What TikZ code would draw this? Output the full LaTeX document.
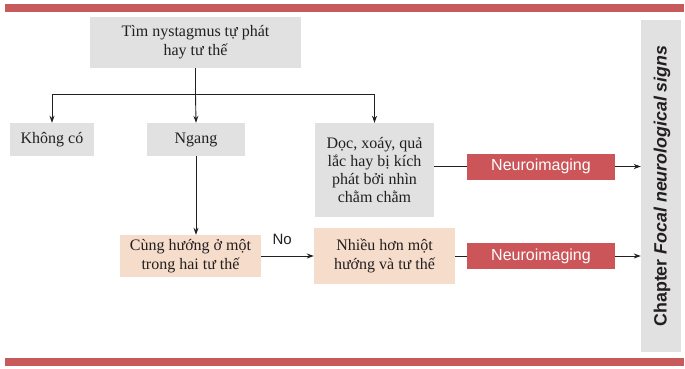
\documentclass[tikz,border=0pt]{standalone}
\usepackage{fontspec}
\setmainfont{Liberation Serif}
\setsansfont{Liberation Sans}
\usetikzlibrary{arrows.meta}
\definecolor{barred}{HTML}{C75B5B}
\definecolor{boxred}{HTML}{CB5558}
\definecolor{boxgray}{HTML}{E1E1E1}
\definecolor{boxpeach}{HTML}{F5DCCB}
\definecolor{linegray}{HTML}{231F20}
\begin{document}
\begin{tikzpicture}[x=1pt,y=-1pt,
  box/.style={fill=boxgray,inner sep=0pt,align=center,text=linegray,font=\fontsize{16}{19}\selectfont},
  peach/.style={fill=boxpeach,inner sep=0pt,align=center,text=linegray,font=\fontsize{16}{19}\selectfont},
  neuro/.style={fill=boxred,inner sep=0pt,minimum width=148pt,minimum height=26pt,text=white,font=\sffamily\fontsize{16}{18}\selectfont},
  conn/.style={draw=linegray,line width=0.9pt},
  arr/.style={conn,-{Stealth[length=7pt,width=5pt]}}]
\useasboundingbox (0,0) rectangle (685,369);
% page rules
\fill[barred] (5,4) rectangle (684,12.5);
\fill[barred] (5,358) rectangle (684,366);
% chapter sidebar
\node[fill=boxgray,minimum width=40pt,minimum height=332pt,inner sep=0pt] (chap) at (661,186) {};
\node[rotate=90,text=linegray,font=\sffamily\bfseries\fontsize{17.8}{20}\selectfont] (chaptext) at (662,186) {Chapter \textit{Focal neurological signs}};
% decision boxes
\node[box,minimum width=211pt,minimum height=51pt] (start) at (195.5,42.5) {Tìm nystagmus tự phát\\hay tư thế};
\node[box,minimum width=84pt,minimum height=33pt] (none) at (52,139.5) {Không có};
\node[box,minimum width=98pt,minimum height=33pt] (horiz) at (196,139.5) {Ngang};
\node[box,minimum width=119pt,minimum height=94pt,font=\fontsize{16}{17.7}\selectfont] (vert) at (374.5,170) {Dọc, xoáy, quả\\lắc hay bị kích\\phát bởi nhìn\\chằm chằm};
\node[peach,minimum width=141pt,minimum height=42pt] (same) at (190.5,256) {Cùng hướng ở một\\trong hai tư thế};
\node[peach,minimum width=141pt,minimum height=56pt] (multi) at (384.5,256) {Nhiều hơn một\\hướng và tư thế};
\node[neuro] (img1) at (541,166.5) {Neuroimaging};
\node[neuro] (img2) at (541,256) {Neuroimaging};
% connectors
\coordinate (split) at (195.5,94);
\draw[conn] (start.south) -- (split);
\draw[arr] (split) -| (none.north);
\draw[arr] (split) -- (horiz.north);
\draw[arr] (split) -| (vert.north);
\draw[arr] (horiz.south) -- (horiz.south |- same.north);
\draw[arr] (same.east) -- node[pos=0.4,above=8pt,text=linegray,font=\sffamily\fontsize{15}{17}\selectfont] (no) {No} (multi.west);
\draw[conn] (vert.east |- img1.west) -- (img1.west);
\draw[conn] (multi.east |- img2.west) -- (img2.west);
\draw[arr] (img1.east) -- (chap.west |- img1.east);
\draw[arr] (img2.east) -- (chap.west |- img2.east);
\end{tikzpicture}
\end{document}
